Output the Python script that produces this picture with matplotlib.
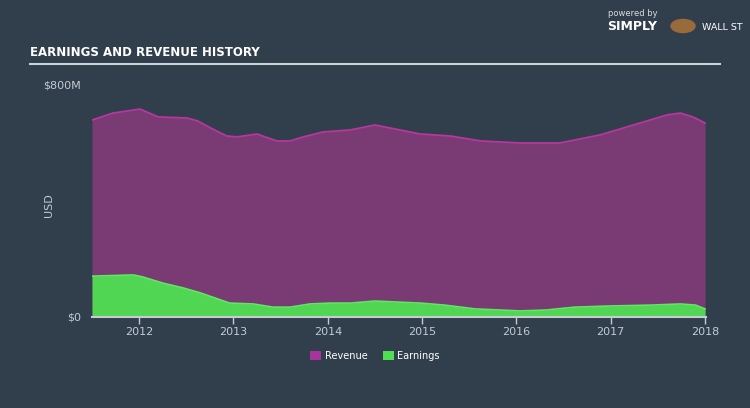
import matplotlib.pyplot as plt
from matplotlib.patches import Patch

# Revenue history (USD millions)
rev_years = [2011.50, 2011.72, 2012.01, 2012.08, 2012.20, 2012.51, 2012.62, 2012.78,
             2012.93, 2013.04, 2013.25, 2013.31, 2013.46, 2013.60, 2013.74, 2013.95,
             2014.24, 2014.50, 2014.98, 2015.30, 2015.62, 2016.04, 2016.46, 2016.89,
             2017.24, 2017.60, 2017.74, 2017.87, 2018.00]
revenue = [679, 703, 717, 707, 690, 686, 676, 648,
           624, 621, 631, 624, 607, 607, 621, 638,
           645, 662, 631, 624, 607, 600, 600, 628,
           662, 697, 703, 690, 669]

# Earnings history (USD millions)
earn_years = [2011.50, 2011.94, 2012.04, 2012.25, 2012.47, 2012.65, 2012.96, 2013.21,
              2013.42, 2013.60, 2013.81, 2014.03, 2014.24, 2014.50, 2014.98, 2015.24,
              2015.56, 2016.04, 2016.31, 2016.62, 2016.99, 2017.42, 2017.74, 2017.90,
              2018.00]
earnings = [141, 145, 138, 117, 100, 83, 48, 45,
            34, 34, 45, 48, 48, 55, 48, 41,
            28, 21, 24, 34, 38, 41, 45, 41,
            28]

x_ticks = [2012, 2013, 2014, 2015, 2016, 2017, 2018]
y_ticks = [0, 800]
y_labels = ["$0", "$800M"]

bg = '#313f4d'
tick_col = '#c3cad2'

fig = plt.figure(figsize=(7.5, 4.08), dpi=100, facecolor=bg)
ax = fig.add_axes([92 / 750, 91 / 408, 614 / 750, 232 / 408])
ax.set_facecolor(bg)

# Revenue area
ax.fill_between(rev_years, revenue, color='#7a3a74', linewidth=0)
ax.plot(rev_years, revenue, color='#b6379e', linewidth=1.3)

# Earnings area
ax.fill_between(earn_years, earnings, color='#50d653', linewidth=0)
ax.plot(earn_years, earnings, color='#5fe862', linewidth=1.2)

ax.set_xlim(2011.5, 2018.01)
ax.set_ylim(0, 800)
ax.set_xticks(x_ticks)
ax.set_xticklabels([str(y) for y in x_ticks])
ax.set_yticks(y_ticks)
ax.set_yticklabels(y_labels)

for side in ['top', 'right', 'left']:
    ax.spines[side].set_visible(False)
ax.spines['bottom'].set_color('#c5ccd4')
ax.spines['bottom'].set_linewidth(1.5)

ax.tick_params(axis='x', colors=tick_col, labelsize=8, length=5, width=1, pad=2)
ax.tick_params(axis='y', colors=tick_col, labelsize=8, length=0, pad=8)
fig.text(49 / 750, 1 - 205 / 408, 'USD', color=tick_col, fontsize=8,
         rotation=90, ha='center', va='center')

# Title and rule
fig.text(30 / 750, 1 - 52 / 408, 'EARNINGS AND REVENUE HISTORY',
         family=['DejaVu Sans Condensed', 'Liberation Sans Narrow', 'DejaVu Sans'],
         fontweight='bold', fontsize=8.5, color='white', va='center', ha='left')
fig.add_artist(plt.Line2D([30 / 750, 720 / 750], [1 - 64 / 408, 1 - 64 / 408],
                          color='#c8d0d8', linewidth=1.5))

# Branding
fig.text(608 / 750, 1 - 14 / 408, 'powered by', color='#d5dae0', fontsize=6,
         ha='left', va='center')
fig.text(607 / 750, 1 - 27 / 408, 'SIMPLY', color='white', fontsize=9,
         fontweight='bold', ha='left', va='center')
fig.add_artist(plt.Circle((683 / 750, 1 - 26 / 408), 0.016, color='#9a6b3a',
                          transform=fig.transFigure))
fig.text(702 / 750, 1 - 27 / 408, 'WALL ST', color='white', fontsize=6.8,
         ha='left', va='center')

# Legend
handles = [Patch(facecolor='#a8339a', edgecolor='none', label='Revenue'),
           Patch(facecolor='#4fe052', edgecolor='none', label='Earnings')]
fig.legend(handles=handles, loc='center', bbox_to_anchor=(0.5, 1 - 356 / 408),
           ncol=2, frameon=False, fontsize=7, labelcolor='white',
           handlelength=1.1, handleheight=1.0, handletextpad=0.4, columnspacing=1.6)

plt.savefig('out.png', dpi=100, facecolor=bg)
